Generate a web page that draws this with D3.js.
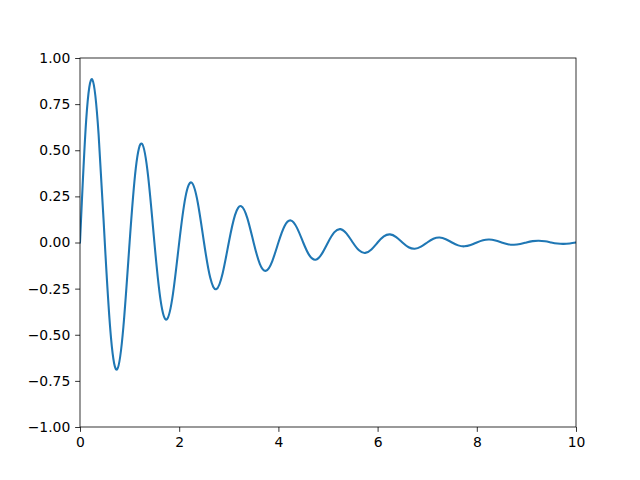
<!DOCTYPE html>
<html>
<head>
<meta charset="utf-8">
<script src="https://cdn.jsdelivr.net/npm/d3@7"></script>
<style>
  html, body { margin: 0; padding: 0; background: #fff; }
  svg { display: block; }
  text { font-family: "DejaVu Sans", sans-serif; }
</style>
</head>
<body>
<svg id="chart" width="640" height="480"></svg>
<script>
const xValues = [0,0.125,0.25,0.375,0.5,0.625,0.75,0.875,1,1.125,1.25,1.375,1.5,1.625,1.75,1.875,2,2.125,2.25,2.375,2.5,2.625,2.75,2.875,3,3.125,3.25,3.375,3.5,3.625,3.75,3.875,4,4.125,4.25,4.375,4.5,4.625,4.75,4.875,5,5.125,5.25,5.375,5.5,5.625,5.75,5.875,6,6.125,6.25,6.375,6.5,6.625,6.75,6.875,7,7.125,7.25,7.375,7.5,7.625,7.75,7.875,8,8.125,8.25,8.375,8.5,8.625,8.75,8.875,9,9.125,9.25,9.375,9.5,9.625,9.75,9.875,10];
const yValues = [0,0.66426,0.88250,0.58621,0,-0.51733,-0.68729,-0.45654,
  0,0.40290,0.53526,0.35556,0,-0.31378,-0.41686,-0.27691,
  0,0.24437,0.32465,0.21566,0,-0.19032,-0.25284,-0.16795,
  0,0.14822,0.19691,0.13080,0,-0.11543,-0.15336,-0.10187,
  0,0.08990,0.11943,0.07934,0,-0.07001,-0.09301,-0.06179,
  0,0.05453,0.07244,0.04812,0,-0.04247,-0.05642,-0.03748,
  0,0.03307,0.04394,0.02919,0,-0.02576,-0.03422,-0.02273,
  0,0.02006,0.02665,0.01770,0,-0.01562,-0.02075,-0.01379,
  0,0.01217,0.01616,0.01074,0,-0.00948,-0.01259,-0.00836,
  0,0.00738,0.00980,0.00651,0,-0.00575,-0.00764,-0.00507,
  0];
const xTicks = [0,2,4,6,8,10];
const yTicks = [-1,-0.75,-0.5,-0.25,0,0.25,0.5,0.75,1];

const data = xValues.map((x, i) => ({x, y: yValues[i]}));

const svg = d3.select("#chart");
const L = 80, R = 576, T = 58, B = 427;
const x = d3.scaleLinear().domain([0, 10]).range([L, R]);
const y = d3.scaleLinear().domain([-1, 1]).range([B, T]);

const fmtY = v => d3.format(".2f")(v).replace("-", "\u2212");

const xAxis = d3.axisBottom(x).tickValues(xTicks).tickFormat(d3.format("d"))
  .tickSizeInner(4.86).tickSizeOuter(0).tickPadding(4.86);
const yAxis = d3.axisLeft(y).tickValues(yTicks).tickFormat(fmtY)
  .tickSizeInner(4.86).tickSizeOuter(0).tickPadding(4.86);

// line
const clip = svg.append("clipPath").attr("id", "clip").append("rect")
  .attr("x", L).attr("y", T).attr("width", R - L).attr("height", B - T);

svg.append("path")
  .datum(data)
  .attr("clip-path", "url(#clip)")
  .attr("fill", "none")
  .attr("stroke", "#1f77b4")
  .attr("stroke-width", 2.08)
  .attr("stroke-linejoin", "round")
  .attr("stroke-linecap", "square")
  .attr("d", d3.line().x(d => x(d.x)).y(d => y(d.y)).curve(d3.curveNatural));

const gx = svg.append("g").attr("transform", `translate(0,${B})`).call(xAxis);
const gy = svg.append("g").attr("transform", `translate(${L},0)`).call(yAxis);
[gx, gy].forEach(g => {
  g.select(".domain").remove();
  g.selectAll(".tick line").attr("stroke", "#000").attr("stroke-width", 0.8);
  g.selectAll(".tick text").attr("fill", "#000").style("font-size", "13.9px")
    .style("font-family", "'DejaVu Sans', sans-serif");
});

// frame
svg.append("rect")
  .attr("x", L).attr("y", T).attr("width", R - L).attr("height", B - T)
  .attr("fill", "none").attr("stroke", "#000").attr("stroke-width", 0.8);
</script>
</body>
</html>
